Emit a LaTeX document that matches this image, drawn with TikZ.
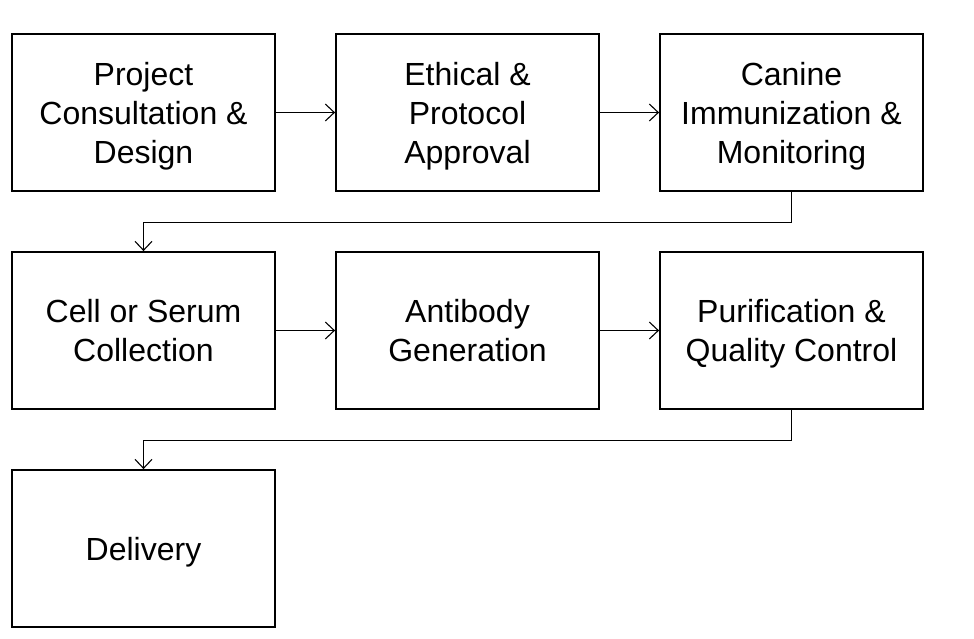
\documentclass[tikz,border=0pt]{standalone}
\usepackage{fontspec}
\setmainfont{Liberation Sans}
\usetikzlibrary{arrows.meta, positioning}

\begin{document}
\begin{tikzpicture}[x=1pt, y=1pt,
    stage/.style={draw, line width=1.8pt, minimum width=263pt, minimum height=157pt,
                  align=center, font=\fontsize{32}{39}\selectfont, inner sep=2pt, text depth=0pt},
    flow/.style={line width=1.1pt, -{Straight Barb[length=9pt, width=17pt]}},
    node distance=59.2pt and 59.2pt]
            \useasboundingbox (0,0) rectangle (974,-638);
            % Row 1
            \node[stage] (consult) at (143.5,-112.5) {Project\\Consultation \&\\Design};
            \node[stage, right=of consult] (ethics) {Ethical \&\\Protocol\\Approval};
            \node[stage, right=of ethics] (immun) {Canine\\Immunization \&\\Monitoring};
            % Row 2
            \node[stage, below=of consult] (collect) {Cell or Serum\\Collection};
            \node[stage, right=of collect] (antibody) {Antibody\\Generation};
            \node[stage, right=of antibody] (purify) {Purification \&\\Quality Control};
            % Row 3
            \node[stage, below=of collect] (deliver) {Delivery};
            % Connectors
            \draw[flow] (consult) -- (ethics);
            \draw[flow] (ethics) -- (immun);
            \draw[flow] (immun.south) -- ++(0,-31) -| (collect.north);
            \draw[flow] (collect) -- (antibody);
            \draw[flow] (antibody) -- (purify);
            \draw[flow] (purify.south) -- ++(0,-31) -| (deliver.north);
\end{tikzpicture}
\end{document}
